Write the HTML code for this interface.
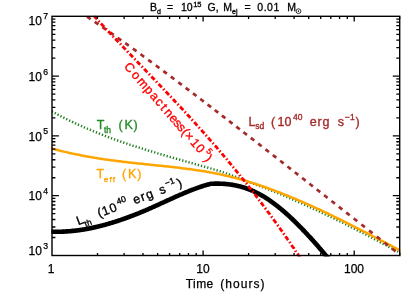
<!DOCTYPE html>
<html><head><meta charset="utf-8"><title>plot</title>
<style>
html,body{margin:0;padding:0;background:#fff;}
svg{display:block;}
text{font-family:"Liberation Sans",sans-serif;}
.m{text-anchor:middle;}
</style></head><body>
<svg width="415" height="297" viewBox="0 0 415 297" style="will-change:transform">
<rect width="415" height="297" fill="#fff"/>
<defs><clipPath id="c"><rect x="51.4" y="15.7" width="348.9" height="240.7"/></clipPath></defs>
<g clip-path="url(#c)" fill="none" stroke-linejoin="round">
<path d="M49.0,109.8 L49.8,110.3 L50.6,110.7 L51.4,111.2 L52.2,111.6 L53.0,112.0 L53.8,112.5 L54.6,112.9 L55.4,113.3 L56.2,113.8 L57.0,114.2 L57.8,114.6 L58.6,115.0 L59.4,115.4 L60.2,115.9 L61.0,116.3 L61.8,116.7 L62.6,117.1 L63.4,117.5 L64.2,117.9 L65.0,118.3 L65.8,118.7 L66.6,119.1 L67.4,119.5 L68.2,119.9 L69.0,120.3 L69.8,120.7 L70.6,121.0 L71.4,121.4 L72.2,121.8 L73.0,122.2 L73.8,122.6 L74.6,122.9 L75.4,123.3 L76.2,123.7 L77.0,124.1 L77.8,124.4 L78.6,124.8 L79.4,125.1 L80.2,125.5 L81.0,125.9 L81.8,126.2 L82.6,126.6 L83.4,126.9 L84.2,127.3 L85.0,127.6 L85.8,128.0 L86.6,128.3 L87.4,128.7 L88.2,129.0 L89.0,129.4 L89.8,129.7 L90.6,130.0 L91.4,130.4 L92.2,130.7 L93.0,131.0 L93.8,131.4 L94.6,131.7 L95.4,132.0 L96.2,132.3 L96.9,132.7 L97.7,133.0 L98.5,133.3 L99.3,133.6 L100.1,133.9 L100.9,134.2 L101.7,134.6 L102.5,134.9 L103.3,135.2 L104.1,135.5 L104.9,135.8 L105.7,136.1 L106.5,136.4 L107.3,136.7 L108.1,137.0 L108.9,137.3 L109.7,137.6 L110.5,137.9 L111.3,138.2 L112.1,138.5 L112.9,138.8 L113.7,139.1 L114.5,139.4 L115.3,139.6 L116.1,139.9 L116.9,140.2 L117.7,140.5 L118.5,140.8 L119.3,141.1 L120.1,141.3 L120.9,141.6 L121.7,141.9 L122.5,142.2 L123.3,142.5 L124.1,142.7 L124.9,143.0 L125.7,143.3 L126.5,143.5 L127.3,143.8 L128.1,144.1 L128.9,144.3 L129.7,144.6 L130.5,144.9 L131.3,145.1 L132.1,145.4 L132.9,145.7 L133.7,145.9 L134.5,146.2 L135.3,146.5 L136.1,146.7 L136.9,147.0 L137.7,147.2 L138.5,147.5 L139.3,147.7 L140.1,148.0 L140.9,148.2 L141.7,148.5 L142.5,148.7 L143.3,149.0 L144.1,149.2 L144.9,149.5 L145.7,149.7 L146.5,150.0 L147.3,150.2 L148.1,150.5 L148.9,150.7 L149.7,151.0 L150.5,151.2 L151.3,151.4 L152.1,151.7 L152.9,151.9 L153.7,152.2 L154.5,152.4 L155.3,152.6 L156.1,152.9 L156.9,153.1 L157.7,153.4 L158.5,153.6 L159.3,153.8 L160.1,154.1 L160.9,154.3 L161.7,154.5 L162.5,154.8 L163.3,155.0 L164.1,155.2 L164.9,155.5 L165.7,155.7 L166.5,155.9 L167.3,156.2 L168.1,156.4 L168.9,156.6 L169.7,156.9 L170.5,157.1 L171.3,157.3 L172.1,157.5 L172.9,157.8 L173.7,158.0 L174.5,158.2 L175.3,158.5 L176.1,158.7 L176.9,158.9 L177.7,159.1 L178.5,159.4 L179.3,159.6 L180.1,159.8 L180.9,160.0 L181.7,160.3 L182.5,160.5 L183.3,160.7 L184.1,160.9 L184.9,161.2 L185.7,161.4 L186.5,161.6 L187.3,161.8 L188.1,162.1 L188.9,162.3 L189.7,162.5 L190.5,162.7 L191.3,163.0 L192.1,163.2 L192.8,163.4 L193.6,163.6 L194.4,163.9 L195.2,164.1 L196.0,164.3 L196.8,164.6 L197.6,164.8 L198.4,165.0 L199.2,165.2 L200.0,165.5 L200.8,165.7 L201.6,165.9 L202.4,166.1 L203.2,166.4 L204.0,166.6 L204.8,166.8 L205.6,167.0 L206.4,167.3 L207.2,167.5 L208.0,167.7 L208.8,168.0 L209.6,168.2 L210.4,168.4 L211.2,168.6 L212.0,168.9 L212.8,169.1 L213.6,169.3 L214.4,169.6 L215.2,169.8 L216.0,170.0 L216.8,170.3 L217.6,170.5 L218.4,170.7 L219.2,171.0 L220.0,171.2 L220.8,171.4 L221.6,171.7 L222.4,171.9 L223.2,172.2 L224.0,172.4 L224.8,172.6 L225.6,172.9 L226.4,173.3 L227.2,173.6 L228.0,173.9 L228.8,174.2 L229.6,174.6 L230.4,174.9 L231.2,175.2 L232.0,175.5 L232.8,175.8 L233.6,176.1 L234.4,176.4 L235.2,176.6 L236.0,176.9 L236.8,177.2 L237.6,177.5 L238.4,177.8 L239.2,178.1 L240.0,178.3 L241.4,178.9 L242.7,179.5 L244.1,180.0 L245.4,180.6 L246.8,181.2 L248.2,181.7 L249.5,182.2 L250.9,182.7 L252.3,183.2 L253.6,183.7 L255.0,184.2 L256.3,184.7 L257.7,185.2 L259.1,185.7 L260.4,186.3 L261.8,186.8 L263.1,187.3 L264.5,187.8 L265.9,188.3 L267.2,188.9 L268.6,189.4 L269.9,189.9 L271.3,190.5 L272.7,191.0 L274.0,191.6 L275.4,192.1 L276.8,192.7 L278.1,193.2 L279.5,193.8 L280.8,194.3 L282.2,194.9 L283.6,195.5 L284.9,196.0 L286.3,196.6 L287.6,197.2 L289.0,197.8 L290.4,198.4 L291.7,199.0 L293.1,199.6 L294.5,200.2 L295.8,200.8 L297.2,201.4 L298.5,202.0 L299.9,202.6 L301.3,203.2 L302.6,203.8 L304.0,204.4 L305.3,205.0 L306.7,205.7 L308.1,206.3 L309.4,206.9 L310.8,207.5 L312.2,208.1 L313.5,208.8 L314.9,209.4 L316.2,210.0 L317.6,210.7 L319.0,211.3 L320.3,212.0 L321.7,212.6 L323.0,213.3 L324.4,213.9 L325.8,214.6 L327.1,215.2 L328.5,215.9 L329.8,216.5 L331.2,217.2 L332.6,217.8 L333.9,218.5 L335.3,219.2 L336.7,219.8 L338.0,220.5 L339.4,221.2 L340.7,221.8 L342.1,222.5 L343.5,223.2 L344.8,223.9 L346.2,224.5 L347.5,225.2 L348.9,225.9 L350.3,226.6 L351.6,227.3 L353.0,228.0 L354.4,228.7 L355.7,229.4 L357.1,230.1 L358.4,230.8 L359.8,231.5 L361.2,232.2 L362.5,232.9 L363.9,233.6 L365.2,234.3 L366.6,235.0 L368.0,235.7 L369.3,236.4 L370.7,237.1 L372.1,237.8 L373.4,238.6 L374.8,239.3 L376.1,240.0 L377.5,240.7 L378.9,241.4 L380.2,242.1 L381.6,242.9 L382.9,243.6 L384.3,244.3 L385.7,245.0 L387.0,245.7 L388.4,246.5 L389.7,247.2 L391.1,247.9 L392.5,248.6 L393.8,249.3 L395.2,250.1 L396.6,250.8 L397.9,251.5 L399.3,252.2 L400.6,252.9 L402.0,253.7" stroke="#1e7e1e" stroke-width="2.5" stroke-dasharray="1.25 2"/>
<path d="M49.0,147.7 L50.5,148.1 L52.0,148.5 L53.4,148.9 L54.9,149.3 L56.4,149.7 L57.9,150.1 L59.3,150.5 L60.8,150.9 L62.3,151.2 L63.8,151.6 L65.2,151.9 L66.7,152.3 L68.2,152.6 L69.7,153.0 L71.2,153.3 L72.6,153.6 L74.1,153.9 L75.6,154.2 L77.1,154.5 L78.5,154.8 L80.0,155.1 L81.5,155.4 L83.0,155.7 L84.4,156.0 L85.9,156.3 L87.4,156.5 L88.9,156.8 L90.4,157.0 L91.8,157.3 L93.3,157.5 L94.8,157.8 L96.3,158.0 L97.7,158.3 L99.2,158.5 L100.7,158.7 L102.2,158.9 L103.6,159.2 L105.1,159.4 L106.6,159.6 L108.1,159.8 L109.6,160.0 L111.0,160.2 L112.5,160.4 L114.0,160.6 L115.5,160.8 L116.9,161.0 L118.4,161.2 L119.9,161.3 L121.4,161.5 L122.8,161.7 L124.3,161.9 L125.8,162.0 L127.3,162.2 L128.8,162.4 L130.2,162.6 L131.7,162.7 L133.2,162.9 L134.7,163.0 L136.1,163.2 L137.6,163.4 L139.1,163.5 L140.6,163.7 L142.1,163.8 L143.5,164.0 L145.0,164.2 L146.5,164.3 L148.0,164.5 L149.4,164.6 L150.9,164.8 L152.4,164.9 L153.9,165.1 L155.3,165.2 L156.8,165.4 L158.3,165.5 L159.8,165.7 L161.3,165.8 L162.7,166.0 L164.2,166.2 L165.7,166.3 L167.2,166.5 L168.6,166.6 L170.1,166.8 L171.6,167.0 L173.1,167.1 L174.5,167.3 L176.0,167.5 L177.5,167.6 L179.0,167.8 L180.5,168.0 L181.9,168.2 L183.4,168.4 L184.9,168.6 L186.4,168.7 L187.8,168.9 L189.3,169.1 L190.8,169.3 L192.3,169.5 L193.7,169.8 L195.2,170.0 L196.7,170.2 L198.2,170.4 L199.7,170.6 L201.1,170.9 L202.6,171.1 L204.1,171.3 L205.6,171.6 L207.0,171.9 L208.5,172.1 L210.0,172.4 L211.5,172.6 L212.9,172.9 L214.4,173.2 L215.9,173.5 L217.4,173.8 L218.9,174.1 L220.3,174.4 L221.8,174.7 L223.3,175.1 L224.8,175.4 L226.2,175.7 L227.7,176.1 L229.2,176.4 L230.7,176.8 L232.1,177.2 L233.6,177.5 L235.1,177.9 L236.6,178.3 L238.1,178.7 L239.5,179.1 L241.0,179.5 L242.5,179.9 L244.0,180.4 L245.4,180.8 L246.9,181.2 L248.4,181.7 L249.9,182.1 L251.3,182.6 L252.8,183.1 L254.3,183.5 L255.8,184.0 L257.3,184.5 L258.7,185.0 L260.2,185.5 L261.7,186.0 L263.2,186.5 L264.6,187.0 L266.1,187.5 L267.6,188.0 L269.1,188.6 L270.5,189.1 L272.0,189.6 L273.5,190.2 L275.0,190.7 L276.5,191.3 L277.9,191.9 L279.4,192.4 L280.9,193.0 L282.4,193.6 L283.8,194.2 L285.3,194.8 L286.8,195.4 L288.3,196.0 L289.7,196.6 L291.2,197.2 L292.7,197.8 L294.2,198.4 L295.7,199.0 L297.1,199.6 L298.6,200.3 L300.1,200.9 L301.6,201.5 L303.0,202.2 L304.5,202.8 L306.0,203.5 L307.5,204.1 L308.9,204.8 L310.4,205.5 L311.9,206.1 L313.4,206.8 L314.9,207.5 L316.3,208.2 L317.8,208.8 L319.3,209.5 L320.8,210.2 L322.2,210.9 L323.7,211.6 L325.2,212.3 L326.7,213.0 L328.2,213.7 L329.6,214.4 L331.1,215.1 L332.6,215.8 L334.1,216.6 L335.5,217.3 L337.0,218.0 L338.5,218.7 L340.0,219.4 L341.4,220.2 L342.9,220.9 L344.4,221.6 L345.9,222.4 L347.4,223.1 L348.8,223.9 L350.3,224.6 L351.8,225.4 L353.3,226.1 L354.7,226.8 L356.2,227.6 L357.7,228.4 L359.2,229.1 L360.6,229.9 L362.1,230.6 L363.6,231.4 L365.1,232.1 L366.6,232.9 L368.0,233.7 L369.5,234.4 L371.0,235.2 L372.5,236.0 L373.9,236.7 L375.4,237.5 L376.9,238.3 L378.4,239.0 L379.8,239.8 L381.3,240.6 L382.8,241.4 L384.3,242.1 L385.8,242.9 L387.2,243.7 L388.7,244.5 L390.2,245.2 L391.7,246.0 L393.1,246.8 L394.6,247.6 L396.1,248.4 L397.6,249.1 L399.0,249.9 L400.5,250.7 L402.0,251.5" stroke="#ffa500" stroke-width="2.5"/>
<path d="M49.0,231.6 L49.7,231.6 L50.4,231.6 L51.0,231.6 L51.7,231.7 L52.4,231.7 L53.1,231.7 L53.7,231.7 L54.4,231.7 L55.1,231.7 L55.8,231.7 L56.5,231.8 L57.1,231.8 L57.8,231.7 L58.5,231.7 L59.2,231.7 L59.8,231.7 L60.5,231.7 L61.2,231.7 L61.9,231.7 L62.6,231.6 L63.2,231.6 L63.9,231.6 L64.6,231.5 L65.3,231.5 L65.9,231.5 L66.6,231.4 L67.3,231.4 L68.0,231.3 L68.7,231.3 L69.3,231.2 L70.0,231.2 L70.7,231.1 L71.4,231.1 L72.0,231.0 L72.7,230.9 L73.4,230.9 L74.1,230.8 L74.8,230.7 L75.4,230.6 L76.1,230.5 L76.8,230.5 L77.5,230.4 L78.1,230.3 L78.8,230.2 L79.5,230.1 L80.2,230.0 L80.9,229.9 L81.5,229.8 L82.2,229.7 L82.9,229.6 L83.6,229.5 L84.2,229.4 L84.9,229.3 L85.6,229.1 L86.3,229.0 L87.0,228.9 L87.6,228.8 L88.3,228.6 L89.0,228.5 L89.7,228.4 L90.3,228.2 L91.0,228.1 L91.7,228.0 L92.4,227.8 L93.1,227.7 L93.7,227.5 L94.4,227.4 L95.1,227.2 L95.8,227.1 L96.4,226.9 L97.1,226.8 L97.8,226.6 L98.5,226.4 L99.2,226.3 L99.8,226.1 L100.5,225.9 L101.2,225.8 L101.9,225.6 L102.5,225.4 L103.2,225.2 L103.9,225.1 L104.6,224.9 L105.3,224.7 L105.9,224.5 L106.6,224.3 L107.3,224.1 L108.0,223.9 L108.6,223.7 L109.3,223.5 L110.0,223.3 L110.7,223.1 L111.4,222.9 L112.0,222.7 L112.7,222.5 L113.4,222.3 L114.1,222.1 L114.7,221.9 L115.4,221.7 L116.1,221.4 L116.8,221.2 L117.5,221.0 L118.1,220.8 L118.8,220.6 L119.5,220.3 L120.2,220.1 L120.8,219.9 L121.5,219.6 L122.2,219.4 L122.9,219.2 L123.6,218.9 L124.2,218.7 L124.9,218.5 L125.6,218.2 L126.3,218.0 L126.9,217.7 L127.6,217.5 L128.3,217.2 L129.0,217.0 L129.7,216.7 L130.3,216.5 L131.0,216.2 L131.7,215.9 L132.4,215.7 L133.1,215.4 L133.7,215.2 L134.4,214.9 L135.1,214.6 L135.8,214.4 L136.4,214.1 L137.1,213.8 L137.8,213.6 L138.5,213.3 L139.2,213.0 L139.8,212.7 L140.5,212.5 L141.2,212.2 L141.9,211.9 L142.5,211.6 L143.2,211.3 L143.9,211.0 L144.6,210.8 L145.3,210.5 L145.9,210.2 L146.6,209.9 L147.3,209.6 L148.0,209.3 L148.6,209.0 L149.3,208.7 L150.0,208.4 L150.7,208.1 L151.4,207.8 L152.0,207.5 L152.7,207.2 L153.4,206.9 L154.1,206.6 L154.7,206.3 L155.4,206.0 L156.1,205.7 L156.8,205.4 L157.5,205.1 L158.1,204.8 L158.8,204.5 L159.5,204.2 L160.2,203.8 L160.8,203.5 L161.5,203.2 L162.2,202.9 L162.9,202.6 L163.6,202.3 L164.2,202.0 L164.9,201.7 L165.6,201.4 L166.3,201.1 L166.9,200.7 L167.6,200.4 L168.3,200.1 L169.0,199.8 L169.7,199.5 L170.3,199.2 L171.0,198.9 L171.7,198.6 L172.4,198.3 L173.0,198.0 L173.7,197.7 L174.4,197.3 L175.1,197.0 L175.8,196.7 L176.4,196.4 L177.1,196.1 L177.8,195.8 L178.5,195.5 L179.1,195.2 L179.8,194.9 L180.5,194.6 L181.2,194.4 L181.9,194.1 L182.5,193.8 L183.2,193.5 L183.9,193.2 L184.6,192.9 L185.2,192.6 L185.9,192.3 L186.6,192.1 L187.3,191.8 L188.0,191.5 L188.6,191.2 L189.3,191.0 L190.0,190.7 L190.7,190.4 L191.3,190.2 L192.0,189.9 L192.7,189.6 L193.4,189.4 L194.1,189.1 L194.7,188.9 L195.4,188.6 L196.1,188.4 L196.8,188.1 L197.4,187.9 L198.1,187.6 L198.8,187.4 L199.5,187.2 L200.2,186.9 L200.8,186.7 L201.5,186.5 L202.2,186.3 L202.9,186.1 L203.5,185.8 L204.2,185.6 L204.9,185.4 L205.6,185.2 L206.3,185.0 L206.9,184.8 L207.6,184.6 L208.3,184.5 L209.0,184.3 L209.6,184.1 L210.3,183.9 L211.0,183.7 L211.5,183.7 L212.0,183.7 L212.5,183.7 L213.0,183.7 L213.5,183.7 L214.0,183.7 L214.5,183.6 L215.0,183.6 L215.5,183.6 L216.0,183.6 L216.5,183.6 L217.0,183.6 L217.5,183.6 L218.0,183.6 L218.5,183.6 L219.0,183.6 L219.5,183.7 L220.0,183.7 L220.5,183.7 L221.0,183.7 L221.5,183.7 L222.0,183.7 L222.5,183.8 L222.9,183.8 L223.4,183.8 L223.9,183.9 L224.4,183.9 L224.9,183.9 L225.4,184.0 L225.9,184.0 L226.4,184.1 L226.9,184.1 L227.4,184.2 L227.9,184.2 L228.4,184.3 L228.9,184.3 L229.4,184.4 L229.9,184.5 L230.4,184.5 L230.9,184.6 L231.4,184.7 L231.9,184.8 L232.4,184.9 L232.9,184.9 L233.4,185.0 L233.9,185.1 L234.4,185.2 L234.9,185.3 L235.4,185.4 L235.9,185.5 L236.4,185.6 L236.9,185.7 L237.4,185.8 L237.9,186.0 L238.4,186.1 L238.9,186.2 L239.4,186.3 L239.9,186.4 L240.4,186.6 L240.9,186.7 L241.4,186.9 L241.9,187.0 L242.4,187.1 L242.9,187.3 L243.4,187.4 L243.9,187.6 L244.4,187.7 L244.9,187.9 L245.4,188.1 L245.9,188.2 L246.4,188.4 L246.8,188.6 L247.3,188.8 L247.8,188.9 L248.3,189.1 L248.8,189.3 L249.3,189.5 L249.8,189.7 L250.3,189.9 L250.8,190.1 L251.3,190.3 L251.8,190.5 L252.3,190.7 L252.8,190.9 L253.3,191.2 L253.8,191.4 L254.3,191.6 L254.8,191.9 L255.3,192.1 L255.8,192.3 L256.3,192.6 L256.8,192.8 L257.3,193.1 L257.8,193.3 L258.3,193.6 L258.8,193.8 L259.3,194.1 L259.8,194.4 L260.3,194.6 L260.8,194.9 L261.3,195.2 L261.8,195.5 L262.3,195.8 L262.8,196.0 L263.3,196.3 L263.8,196.6 L264.3,196.9 L264.8,197.2 L265.3,197.5 L265.8,197.9 L266.3,198.2 L266.8,198.5 L267.3,198.8 L267.8,199.1 L268.3,199.5 L268.8,199.8 L269.3,200.1 L269.8,200.5 L270.3,200.8 L270.7,201.2 L271.2,201.5 L271.7,201.9 L272.2,202.2 L272.7,202.6 L273.2,203.0 L273.7,203.3 L274.2,203.7 L274.7,204.1 L275.2,204.5 L275.7,204.8 L276.2,205.2 L276.7,205.6 L277.2,206.0 L277.7,206.4 L278.2,206.8 L278.7,207.2 L279.2,207.6 L279.7,208.0 L280.2,208.4 L280.7,208.8 L281.2,209.2 L281.7,209.6 L282.2,210.1 L282.7,210.5 L283.2,210.9 L283.7,211.3 L284.2,211.8 L284.7,212.2 L285.2,212.6 L285.7,213.1 L286.2,213.5 L286.7,214.0 L287.2,214.4 L287.7,214.9 L288.2,215.3 L288.7,215.8 L289.2,216.2 L289.7,216.7 L290.2,217.2 L290.7,217.6 L291.2,218.1 L291.7,218.6 L292.2,219.0 L292.7,219.5 L293.2,220.0 L293.7,220.5 L294.2,220.9 L294.6,221.4 L295.1,221.9 L295.6,222.4 L296.1,222.9 L296.6,223.4 L297.1,223.9 L297.6,224.4 L298.1,224.9 L298.6,225.4 L299.1,225.9 L299.6,226.4 L300.1,226.9 L300.6,227.4 L301.1,227.9 L301.6,228.4 L302.1,228.9 L302.6,229.5 L303.1,230.0 L303.6,230.5 L304.1,231.0 L304.6,231.5 L305.1,232.1 L305.6,232.6 L306.1,233.1 L306.6,233.7 L307.1,234.2 L307.6,234.7 L308.1,235.3 L308.6,235.8 L309.1,236.3 L309.6,236.9 L310.1,237.4 L310.6,238.0 L311.1,238.5 L311.6,239.1 L312.1,239.6 L312.6,240.2 L313.1,240.7 L313.6,241.3 L314.1,241.8 L314.6,242.4 L315.1,243.0 L315.6,243.5 L316.1,244.1 L316.6,244.7 L317.1,245.2 L317.6,245.8 L318.1,246.4 L318.5,246.9 L319.0,247.5 L319.5,248.1 L320.0,248.7 L320.5,249.2 L321.0,249.8 L321.5,250.4 L322.0,251.0 L322.5,251.5 L323.0,252.1 L323.5,252.7 L324.0,253.3 L324.5,253.9 L325.0,254.5 L325.5,255.1 L326.0,255.7 L326.5,256.2 L327.0,256.8 L327.5,257.4 L328.0,258.0 L328.5,258.6 L329.0,259.2 L329.5,259.8 L330.0,260.4" stroke="#000" stroke-width="4.6"/>
<path d="M80.00,12.08 L80.59,12.46 L81.18,12.85 L81.77,13.23 L82.36,13.62 L82.94,14.01 M87.02,16.71 L87.76,17.20 L88.49,17.69 L89.22,18.17 L89.95,18.66 L90.68,19.15 M94.74,21.89 L95.47,22.38 L96.20,22.88 L96.92,23.37 L97.65,23.87 L98.38,24.36 M102.41,27.13 L103.14,27.63 L103.86,28.13 L104.59,28.63 L105.31,29.13 L106.04,29.63 M110.05,32.42 L110.77,32.92 L111.50,33.43 L112.22,33.93 L112.94,34.44 L113.66,34.94 M117.66,37.76 L118.38,38.27 L119.09,38.78 L119.81,39.28 L120.53,39.79 L121.25,40.30 M125.23,43.14 L125.95,43.65 L126.66,44.17 L127.38,44.68 L128.09,45.19 L128.81,45.71 M132.91,48.66 L133.62,49.17 L134.34,49.69 L135.05,50.21 L135.76,50.72 L136.47,51.24 M140.57,54.22 L141.28,54.73 L141.99,55.25 L142.70,55.77 L143.41,56.29 L144.12,56.81 M148.21,59.81 L148.92,60.33 L149.63,60.85 L150.34,61.37 L151.04,61.90 L151.75,62.42 M155.85,65.45 L156.56,65.97 L157.26,66.50 L157.97,67.02 L158.68,67.55 L159.38,68.07 M163.35,71.02 L164.06,71.55 L164.76,72.08 L165.47,72.60 L166.17,73.13 L166.88,73.66 M170.86,76.63 L171.56,77.16 L172.26,77.69 L172.97,78.22 L173.67,78.75 L174.37,79.28 M178.32,82.25 L179.02,82.78 L179.72,83.31 L180.42,83.84 L181.13,84.37 L181.83,84.90 M185.68,87.81 L186.38,88.34 L187.08,88.87 L187.78,89.40 L188.48,89.94 L189.18,90.47 M193.02,93.38 L193.72,93.92 L194.42,94.45 L195.12,94.98 L195.82,95.51 L196.52,96.05 M200.30,98.93 L201.00,99.47 L201.70,100.00 L202.40,100.53 L203.10,101.07 L203.80,101.60 M207.60,104.52 L208.30,105.05 L209.00,105.59 L209.70,106.12 L210.40,106.66 L211.09,107.19 M214.75,110.00 L215.45,110.54 L216.15,111.08 L216.85,111.61 L217.54,112.15 L218.24,112.69 M221.87,115.48 L222.57,116.02 L223.27,116.56 L223.96,117.09 L224.66,117.63 L225.36,118.17 M229.03,121.01 L229.73,121.54 L230.43,122.08 L231.12,122.62 L231.82,123.16 L232.52,123.70 M236.30,126.62 L236.99,127.16 L237.69,127.70 L238.38,128.24 L239.08,128.78 L239.77,129.31 M243.46,132.17 L244.15,132.71 L244.85,133.25 L245.54,133.79 L246.24,134.33 L246.93,134.87 M250.79,137.86 L251.48,138.40 L252.18,138.94 L252.87,139.48 L253.57,140.02 L254.26,140.56 M258.17,143.60 L258.86,144.14 L259.56,144.68 L260.25,145.22 L260.95,145.76 L261.64,146.30 M265.53,149.33 L266.22,149.87 L266.92,150.41 L267.61,150.95 L268.30,151.49 L269.00,152.03 M272.81,155.01 L273.50,155.55 L274.20,156.09 L274.89,156.63 L275.58,157.17 L276.28,157.71 M280.13,160.72 L280.82,161.26 L281.52,161.80 L282.21,162.35 L282.90,162.89 L283.60,163.43 M287.45,166.44 L288.14,166.98 L288.84,167.53 L289.53,168.07 L290.22,168.61 L290.92,169.15 M294.81,172.20 L295.50,172.74 L296.20,173.28 L296.89,173.83 L297.58,174.37 L298.27,174.91 M302.13,177.93 L302.82,178.47 L303.52,179.02 L304.21,179.56 L304.90,180.10 L305.59,180.64 M309.42,183.64 L310.11,184.19 L310.81,184.73 L311.50,185.27 L312.19,185.82 L312.88,186.36 M316.76,189.40 L317.45,189.94 L318.15,190.49 L318.84,191.03 L319.53,191.57 L320.22,192.12 M324.11,195.17 L324.80,195.71 L325.50,196.25 L326.19,196.80 L326.88,197.34 L327.57,197.88 M331.47,200.94 L332.16,201.49 L332.86,202.03 L333.55,202.58 L334.24,203.12 L334.93,203.66 M338.83,206.73 L339.52,207.27 L340.22,207.81 L340.91,208.36 L341.60,208.90 L342.29,209.44 M346.22,212.53 L346.91,213.08 L347.61,213.62 L348.30,214.16 L348.99,214.71 L349.68,215.25 M353.72,218.43 L354.41,218.97 L355.11,219.52 L355.80,220.06 L356.49,220.60 L357.18,221.15 M361.39,224.46 L362.08,225.00 L362.78,225.55 L363.47,226.09 L364.16,226.64 L364.85,227.18 M369.07,230.50 L369.76,231.05 L370.46,231.59 L371.15,232.13 L371.84,232.68 L372.53,233.22 M376.79,236.58 L377.48,237.12 L378.18,237.67 L378.87,238.21 L379.56,238.75 L380.25,239.30 M384.51,242.65 L385.20,243.20 L385.90,243.74 L386.59,244.29 L387.28,244.83 L387.97,245.38 M392.07,248.61 L392.76,249.15 L393.46,249.69 L394.15,250.24 L394.84,250.78 L395.53,251.33 M399.63,254.56 L400.32,255.10 L401.01,255.65 L401.71,256.19 L402.40,256.74 L403.09,257.28" stroke="#a52a2a" stroke-width="2.7"/>
<path d="M90.0,11.6 L90.4,12.0 L90.7,12.4 L91.1,12.8 L91.4,13.1 L91.8,13.5 L92.1,13.9 L92.5,14.3 L92.8,14.7 L93.2,15.1 L93.5,15.5 L93.9,15.8 L94.2,16.2 L94.6,16.6 L95.0,17.0 L95.3,17.4 L95.7,17.8 L96.0,18.1 L96.4,18.5 L96.7,18.9 L97.1,19.3 L97.4,19.7 L97.8,20.1 L98.1,20.4 L98.5,20.8 L98.8,21.2 L99.2,21.6 L99.6,22.0 L99.9,22.3 L100.3,22.7 L100.6,23.1 L101.0,23.5 L101.3,23.9 L101.7,24.3 L102.0,24.6 L102.4,25.0 L102.7,25.4 L103.1,25.8 L103.4,26.1 L103.8,26.5 L104.2,26.9 L104.5,27.3 L104.9,27.7 L105.2,28.0 L105.6,28.4 L105.9,28.8 L106.3,29.2 L106.6,29.6 L107.0,29.9 L107.3,30.3 L107.7,30.7 L108.1,31.1 L108.4,31.4 L108.8,31.8 L109.1,32.2 L109.5,32.6 L109.8,32.9 L110.2,33.3 L110.5,33.7 L110.9,34.1 L111.2,34.4 L111.6,34.8 L111.9,35.2 L112.3,35.6 L112.7,35.9 L113.0,36.3 L113.4,36.7 L113.7,37.1 L114.1,37.4 L114.4,37.8 L114.8,38.2 L115.1,38.6 L115.5,38.9 L115.8,39.3 L116.2,39.7 L116.5,40.1 L116.9,40.4 L117.3,40.8 L117.6,41.2 L118.0,41.5 L118.3,41.9 L118.7,42.3 L119.0,42.7 L119.4,43.0 L119.7,43.4 L120.1,43.8 L120.4,44.1 L120.8,44.5 L121.1,44.9 L121.5,45.3 L121.9,45.6 L122.2,46.0 L122.6,46.4 L122.9,46.7 L123.3,47.1 L123.6,47.5 L124.0,47.9 L124.3,48.2 L124.7,48.6 L125.0,49.0 L125.4,49.3 L125.7,49.7 L126.1,50.1 L126.5,50.5 L126.8,50.8 L127.2,51.2 L127.5,51.6 L127.9,51.9 L128.2,52.3 L128.6,52.7 L128.9,53.0 L129.3,53.4 L129.6,53.8 L130.0,54.1 L130.3,54.5 L130.7,54.9 L131.1,55.3 L131.4,55.6 L131.8,56.0 L132.1,56.4 L132.5,56.7 L132.8,57.1 L133.2,57.5 L133.5,57.8 L133.9,58.2 L134.2,58.6 L134.6,58.9 L134.9,59.3 L135.3,59.7 L135.7,60.1 L136.0,60.4 L136.4,60.8 L136.7,61.2 L137.1,61.5 L137.4,61.9 L137.8,62.3 L138.1,62.6 L138.5,63.0 L138.8,63.4 L139.2,63.7 L139.5,64.1 L139.9,64.5 L140.3,64.8 L140.6,65.2 L141.0,65.6 L141.3,66.0 L141.7,66.3 L142.0,66.7 L142.4,67.1 L142.7,67.4 L143.1,67.8 L143.4,68.2 L143.8,68.5 L144.2,68.9 L144.5,69.3 L144.9,69.6 L145.2,70.0 L145.6,70.4 L145.9,70.7 L146.3,71.1 L146.6,71.5 L147.0,71.9 L147.3,72.2 L147.7,72.6 L148.0,73.0 L148.4,73.3 L148.8,73.7 L149.1,74.1 L149.5,74.4 L149.8,74.8 L150.2,75.2 L150.5,75.5 L150.9,75.9 L151.2,76.3 L151.6,76.7 L151.9,77.0 L152.3,77.4 L152.6,77.8 L153.0,78.1 L153.4,78.5 L153.7,78.9 L154.1,79.2 L154.4,79.6 L154.8,80.0 L155.1,80.4 L155.5,80.7 L155.8,81.1 L156.2,81.5 L156.5,81.8 L156.9,82.2 L157.2,82.6 L157.6,82.9 L158.0,83.3 L158.3,83.7 L158.7,84.1 L159.0,84.4 L159.4,84.8 L159.7,85.2 L160.1,85.5 L160.4,85.9 L160.8,86.3 L161.1,86.7 L161.5,87.0 L161.8,87.4 L162.2,87.8 L162.6,88.1 L162.9,88.5 L163.3,88.9 L163.6,89.3 L164.0,89.6 L164.3,90.0 L164.7,90.4 L165.0,90.8 L165.4,91.1 L165.7,91.5 L166.1,91.9 L166.4,92.2 L166.8,92.6 L167.2,93.0 L167.5,93.4 L167.9,93.7 L168.2,94.1 L168.6,94.5 L168.9,94.9 L169.3,95.2 L169.6,95.6 L170.0,96.0 L170.3,96.4 L170.7,96.7 L171.0,97.1 L171.4,97.5 L171.8,97.9 L172.1,98.2 L172.5,98.6 L172.8,99.0 L173.2,99.4 L173.5,99.7 L173.9,100.1 L174.2,100.5 L174.6,100.9 L174.9,101.3 L175.3,101.6 L175.6,102.0 L176.0,102.4 L176.4,102.8 L176.7,103.1 L177.1,103.5 L177.4,103.9 L177.8,104.3 L178.1,104.7 L178.5,105.0 L178.8,105.4 L179.2,105.8 L179.5,106.2 L179.9,106.6 L180.3,106.9 L180.6,107.3 L181.0,107.7 L181.3,108.1 L181.7,108.5 L182.0,108.8 L182.4,109.2 L182.7,109.6 L183.1,110.0 L183.4,110.4 L183.8,110.7 L184.1,111.1 L184.5,111.5 L184.9,111.9 L185.2,112.3 L185.6,112.7 L185.9,113.0 L186.3,113.4 L186.6,113.8 L187.0,114.2 L187.3,114.6 L187.7,115.0 L188.0,115.4 L188.4,115.7 L188.7,116.1 L189.1,116.5 L189.5,116.9 L189.8,117.3 L190.2,117.7 L190.5,118.1 L190.9,118.4 L191.2,118.8 L191.6,119.2 L191.9,119.6 L192.3,120.0 L192.6,120.4 L193.0,120.8 L193.3,121.2 L193.7,121.6 L194.1,121.9 L194.4,122.3 L194.8,122.7 L195.1,123.1 L195.5,123.5 L195.8,123.9 L196.2,124.3 L196.5,124.7 L196.9,125.1 L197.2,125.5 L197.6,125.9 L197.9,126.2 L198.3,126.6 L198.7,127.0 L199.0,127.4 L199.4,127.8 L199.7,128.2 L200.1,128.6 L200.4,129.0 L200.8,129.4 L201.1,129.8 L201.5,130.2 L201.8,130.6 L202.2,131.0 L202.5,131.4 L202.9,131.8 L203.3,132.2 L203.6,132.6 L204.0,133.0 L204.3,133.4 L204.7,133.8 L205.0,134.2 L205.4,134.6 L205.7,135.0 L206.1,135.4 L206.4,135.8 L206.8,136.2 L207.1,136.6 L207.5,137.0 L207.9,137.4 L208.2,137.8 L208.6,138.2 L208.9,138.6 L209.3,139.0 L209.6,139.4 L210.0,139.8 L210.3,140.2 L210.7,140.6 L211.0,141.0 L211.4,141.4 L211.7,141.8 L212.1,142.2 L212.5,142.6 L212.8,143.0 L213.2,143.4 L213.5,143.8 L213.9,144.3 L214.2,144.7 L214.6,145.1 L214.9,145.5 L215.3,145.9 L215.6,146.3 L216.0,146.7 L216.4,147.1 L216.7,147.5 L217.1,147.9 L217.4,148.4 L217.8,148.8 L218.1,149.2 L218.5,149.6 L218.8,150.0 L219.2,150.4 L219.5,150.8 L219.9,151.2 L220.2,151.7 L220.6,152.1 L221.0,152.5 L221.3,152.9 L221.7,153.3 L222.0,153.7 L222.4,154.2 L222.7,154.6 L223.1,155.0 L223.4,155.4 L223.8,155.8 L224.1,156.3 L224.5,156.7 L224.8,157.1 L225.2,157.5 L225.6,157.9 L225.9,158.4 L226.3,158.8 L226.6,159.2 L227.0,159.6 L227.3,160.1 L227.7,160.5 L228.0,160.9 L228.4,161.3 L228.7,161.8 L229.1,162.2 L229.4,162.6 L229.8,163.0 L230.2,163.5 L230.5,163.9 L230.9,164.3 L231.2,164.7 L231.6,165.2 L231.9,165.6 L232.3,166.0 L232.6,166.5 L233.0,166.9 L233.3,167.3 L233.7,167.8 L234.0,168.2 L234.4,168.6 L234.8,169.1 L235.1,169.5 L235.5,169.9 L235.8,170.4 L236.2,170.8 L236.5,171.2 L236.9,171.7 L237.2,172.1 L237.6,172.5 L237.9,173.0 L238.3,173.4 L238.6,173.9 L239.0,174.3 L239.4,174.7 L239.7,175.2 L240.1,175.6 L240.4,176.1 L240.8,176.5 L241.1,176.9 L241.5,177.4 L241.8,177.8 L242.2,178.3 L242.5,178.7 L242.9,179.2 L243.2,179.6 L243.6,180.0 L244.0,180.5 L244.3,180.9 L244.7,181.4 L245.0,181.8 L245.4,182.3 L245.7,182.7 L246.1,183.2 L246.4,183.6 L246.8,184.1 L247.1,184.5 L247.5,185.0 L247.8,185.4 L248.2,185.9 L248.6,186.3 L248.9,186.8 L249.3,187.2 L249.6,187.7 L250.0,188.1 L250.3,188.6 L250.7,189.0 L251.0,189.5 L251.4,189.9 L251.7,190.4 L252.1,190.9 L252.5,191.3 L252.8,191.8 L253.2,192.2 L253.5,192.7 L253.9,193.2 L254.2,193.6 L254.6,194.1 L254.9,194.5 L255.3,195.0 L255.6,195.5 L256.0,195.9 L256.3,196.4 L256.7,196.8 L257.1,197.3 L257.4,197.8 L257.8,198.2 L258.1,198.7 L258.5,199.2 L258.8,199.6 L259.2,200.1 L259.5,200.6 L259.9,201.0 L260.2,201.5 L260.6,202.0 L260.9,202.4 L261.3,202.9 L261.7,203.4 L262.0,203.9 L262.4,204.3 L262.7,204.8 L263.1,205.3 L263.4,205.7 L263.8,206.2 L264.1,206.7 L264.5,207.2 L264.8,207.6 L265.2,208.1 L265.5,208.6 L265.9,209.1 L266.3,209.5 L266.6,210.0 L267.0,210.5 L267.3,211.0 L267.7,211.5 L268.0,211.9 L268.4,212.4 L268.7,212.9 L269.1,213.4 L269.4,213.9 L269.8,214.3 L270.1,214.8 L270.5,215.3 L270.9,215.8 L271.2,216.3 L271.6,216.8 L271.9,217.2 L272.3,217.7 L272.6,218.2 L273.0,218.7 L273.3,219.2 L273.7,219.7 L274.0,220.2 L274.4,220.7 L274.7,221.1 L275.1,221.6 L275.5,222.1 L275.8,222.6 L276.2,223.1 L276.5,223.6 L276.9,224.1 L277.2,224.6 L277.6,225.1 L277.9,225.6 L278.3,226.1 L278.6,226.6 L279.0,227.1 L279.3,227.6 L279.7,228.1 L280.1,228.6 L280.4,229.1 L280.8,229.6 L281.1,230.1 L281.5,230.6 L281.8,231.1 L282.2,231.6 L282.5,232.1 L282.9,232.6 L283.2,233.1 L283.6,233.6 L283.9,234.1 L284.3,234.6 L284.7,235.1 L285.0,235.6 L285.4,236.1 L285.7,236.6 L286.1,237.1 L286.4,237.6 L286.8,238.1 L287.1,238.6 L287.5,239.2 L287.8,239.7 L288.2,240.2 L288.6,240.7 L288.9,241.2 L289.3,241.7 L289.6,242.2 L290.0,242.7 L290.3,243.3 L290.7,243.8 L291.0,244.3 L291.4,244.8 L291.7,245.3 L292.1,245.8 L292.4,246.4 L292.8,246.9 L293.2,247.4 L293.5,247.9 L293.9,248.4 L294.2,249.0 L294.6,249.5 L294.9,250.0 L295.3,250.5 L295.6,251.1 L296.0,251.6 L296.3,252.1 L296.7,252.6 L297.0,253.2 L297.4,253.7 L297.8,254.2 L298.1,254.7 L298.5,255.3 L298.8,255.8 L299.2,256.3 L299.5,256.9 L299.9,257.4 L300.2,257.9 L300.6,258.4 L300.9,259.0 L301.3,259.5 L301.6,260.0 L302.0,260.6" stroke="#ff0000" stroke-width="2.8" stroke-dasharray="4.7 2.143 1.5 2.143" stroke-dashoffset="4.73"/>
</g>
<g stroke="#000" stroke-width="1.4" fill="none">
<rect x="52.0" y="16.3" width="347.7" height="239.2"/>
<path d="M97.49,255.5 v-2.6 M97.49,16.4 v2.6 M124.10,255.5 v-2.6 M124.10,16.4 v2.6 M142.98,255.5 v-2.6 M142.98,16.4 v2.6 M157.62,255.5 v-2.6 M157.62,16.4 v2.6 M169.58,255.5 v-2.6 M169.58,16.4 v2.6 M179.70,255.5 v-2.6 M179.70,16.4 v2.6 M188.46,255.5 v-2.6 M188.46,16.4 v2.6 M196.19,255.5 v-2.6 M196.19,16.4 v2.6 M203.11,255.5 v-5 M203.11,16.4 v5 M248.59,255.5 v-2.6 M248.59,16.4 v2.6 M275.20,255.5 v-2.6 M275.20,16.4 v2.6 M294.08,255.5 v-2.6 M294.08,16.4 v2.6 M308.72,255.5 v-2.6 M308.72,16.4 v2.6 M320.69,255.5 v-2.6 M320.69,16.4 v2.6 M330.81,255.5 v-2.6 M330.81,16.4 v2.6 M339.57,255.5 v-2.6 M339.57,16.4 v2.6 M347.30,255.5 v-2.6 M347.30,16.4 v2.6 M354.21,255.5 v-5 M354.21,16.4 v5 M399.70,255.5 v-2.6 M399.70,16.4 v2.6 M52.0,237.51 h3.4 M399.7,237.51 h-3.4 M52.0,226.98 h3.4 M399.7,226.98 h-3.4 M52.0,219.51 h3.4 M399.7,219.51 h-3.4 M52.0,213.72 h3.4 M399.7,213.72 h-3.4 M52.0,208.99 h3.4 M399.7,208.99 h-3.4 M52.0,204.98 h3.4 M399.7,204.98 h-3.4 M52.0,201.52 h3.4 M399.7,201.52 h-3.4 M52.0,198.46 h3.4 M399.7,198.46 h-3.4 M52.0,195.72 h6.9 M399.7,195.72 h-6.9 M52.0,177.73 h3.4 M399.7,177.73 h-3.4 M52.0,167.21 h3.4 M399.7,167.21 h-3.4 M52.0,159.74 h3.4 M399.7,159.74 h-3.4 M52.0,153.94 h3.4 M399.7,153.94 h-3.4 M52.0,149.21 h3.4 M399.7,149.21 h-3.4 M52.0,145.21 h3.4 M399.7,145.21 h-3.4 M52.0,141.74 h3.4 M399.7,141.74 h-3.4 M52.0,138.69 h3.4 M399.7,138.69 h-3.4 M52.0,135.95 h6.9 M399.7,135.95 h-6.9 M52.0,117.96 h3.4 M399.7,117.96 h-3.4 M52.0,107.43 h3.4 M399.7,107.43 h-3.4 M52.0,99.96 h3.4 M399.7,99.96 h-3.4 M52.0,94.17 h3.4 M399.7,94.17 h-3.4 M52.0,89.44 h3.4 M399.7,89.44 h-3.4 M52.0,85.43 h3.4 M399.7,85.43 h-3.4 M52.0,81.97 h3.4 M399.7,81.97 h-3.4 M52.0,78.91 h3.4 M399.7,78.91 h-3.4 M52.0,76.18 h6.9 M399.7,76.18 h-6.9 M52.0,58.18 h3.4 M399.7,58.18 h-3.4 M52.0,47.66 h3.4 M399.7,47.66 h-3.4 M52.0,40.19 h3.4 M399.7,40.19 h-3.4 M52.0,34.39 h3.4 M399.7,34.39 h-3.4 M52.0,29.66 h3.4 M399.7,29.66 h-3.4 M52.0,25.66 h3.4 M399.7,25.66 h-3.4 M52.0,22.19 h3.4 M399.7,22.19 h-3.4 M52.0,19.14 h3.4 M399.7,19.14 h-3.4" stroke-width="1.3"/>
</g>
<g fill="#000" stroke="#000" stroke-width="0.25" font-size="12px">
<text x="28.6" y="24.8">10</text><text x="43.2" y="18.5" font-size="8.7px">7</text>
<text x="28.6" y="81.3">10</text><text x="43.2" y="75.0" font-size="8.7px">6</text>
<text x="28.6" y="140.7">10</text><text x="43.2" y="134.39999999999998" font-size="8.7px">5</text>
<text x="28.6" y="200.4">10</text><text x="43.2" y="194.1" font-size="8.7px">4</text>
<text x="28.6" y="255.4">10</text><text x="43.2" y="249.1" font-size="8.7px">3</text>
<text class="m" x="51.2" y="273.3">1</text>
<text class="m" x="202.9" y="273.3">10</text>
<text class="m" x="354" y="273.3">100</text>
<text x="185.7" y="288.2" textLength="27.6" lengthAdjust="spacing">Time</text><text x="220.2" y="288.2" textLength="44.4" lengthAdjust="spacing">(hours)</text>
</g>
<g fill="#000" stroke="#000" stroke-width="0.3" font-size="10.5px">
<text x="150" y="11.3">B</text><text x="157" y="13.8" font-size="7px">d</text>
<text x="167" y="11.3">=</text><text x="181" y="11.3">10</text><text x="193.2" y="7" font-size="7.5px">15</text>
<text x="207.5" y="11.3">G,</text><text x="223.3" y="11.3">M</text><text x="232" y="13.8" font-size="7px">ej</text>
<text x="244.5" y="11.3">=</text><text x="257.3" y="11.3" textLength="22" lengthAdjust="spacing">0.01</text>
<text x="287.3" y="11.3">M</text>
<circle cx="298.5" cy="11.2" r="2.4" fill="none" stroke="#000" stroke-width="0.8"/><circle cx="298.5" cy="11.2" r="0.6"/>
</g>
<g fill="#228b22" stroke="#228b22" stroke-width="0.35" font-size="12.5px">
<text x="96.8" y="129.4">T</text><text x="104" y="133" font-size="8.5px">th</text>
<text x="118.6" y="129.3">(</text><text x="124.5" y="129.3">K</text><text x="133.5" y="129.3">)</text>
</g>
<g fill="#ffa500" stroke="#ffa500" stroke-width="0.35" font-size="12.5px">
<text x="96.6" y="177.5">T</text><text x="103.8" y="181.5" font-size="8px" textLength="11.3" lengthAdjust="spacing">eff</text>
<text x="122" y="177.5">(</text><text x="128" y="177.5">K</text><text x="137.2" y="177.5">)</text>
</g>
<g fill="#a52a2a" stroke="#a52a2a" stroke-width="0.35" font-size="12.5px">
<text x="248.6" y="126">L</text><text x="255.2" y="129.3" font-size="8.5px">sd</text>
<text x="271" y="126">(</text><text x="277.4" y="126">1</text><text x="284.4" y="126">0</text>
<text x="293" y="120.3" font-size="8.5px">40</text>
<text x="309.7" y="126" textLength="19.8" lengthAdjust="spacing">erg</text>
<text x="337.7" y="126">s</text><text x="345" y="120.3" font-size="8.5px">&#8722;1</text>
<text x="355.6" y="126">)</text>
</g>
<g fill="#000" stroke="#000" stroke-width="0.35" font-size="12.5px" transform="translate(79.4,224.8) rotate(-20.5)">
<text x="-1.2" y="0">L</text><text class="m" x="8.8" y="4.2" font-size="8.5px">th</text>
<text class="m" x="23.2" y="0">(</text><text class="m" x="29.4" y="0">1</text><text class="m" x="37.4" y="0">0</text>
<text class="m" x="47.8" y="-5.7" font-size="8.5px">40</text>
<text class="m" x="62.5" y="0">e</text><text class="m" x="69.3" y="0">r</text><text class="m" x="76.1" y="0">g</text>
<text class="m" x="89.9" y="0">s</text><text class="m" x="99.5" y="-5.7" font-size="8.5px">&#8722;1</text>
<text class="m" x="108.3" y="0">)</text>
</g>
<g fill="#ff0000" stroke="#ff0000" stroke-width="0.35" font-size="12.5px" transform="translate(126.4,70.05) rotate(49)">
<text class="m" y="0" x="0 10.3 20.6 30 38.2 45.9 52.6 60.2 67.7 73.9 79.5 85.2 91.2 100.2 107.6">Compactness(&#215;10</text>
<text class="m" x="115.8" y="-6.6" font-size="8.5px">5</text>
<text class="m" x="120.5" y="0">)</text>
</g>
</svg>
</body></html>
